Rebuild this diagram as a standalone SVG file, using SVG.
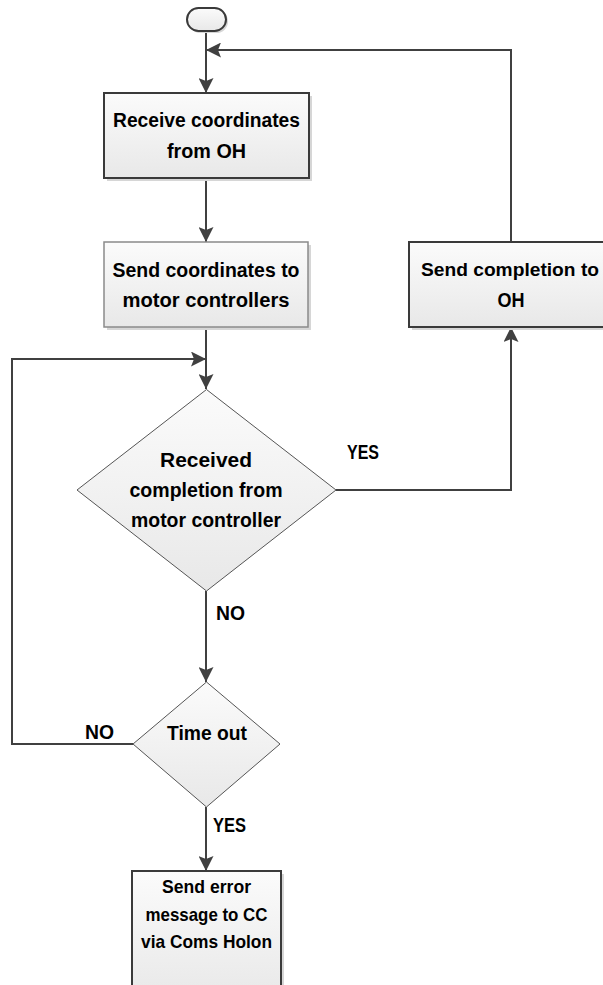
<svg xmlns="http://www.w3.org/2000/svg" width="603" height="985" viewBox="0 0 603 985">
  <defs>
    <linearGradient id="fillGrad" x1="0" y1="0" x2="0" y2="1">
      <stop offset="0" stop-color="#fbfbfb"/>
      <stop offset="1" stop-color="#e8e8e8"/>
    </linearGradient>
    <marker id="arrow" markerUnits="userSpaceOnUse" markerWidth="15" markerHeight="15" viewBox="0 0 15 15" refX="15" refY="7.5" orient="auto">
      <path d="M0,0 L15,7.5 L0,15 L3,7.5 z" fill="#404040"/>
    </marker>
    <style>
      .shape { fill: url(#fillGrad); }
      .dark { stroke: #3a3a3a; stroke-width: 2; }
      .light { stroke: #8a8a8a; stroke-width: 1.5; }
      .thin { stroke: #555555; stroke-width: 1; }
      .shadow { fill: #d6d6d6; }
      .lbl { font-family: "Liberation Sans", Arial, sans-serif; font-weight: bold; font-size: 20px; fill: #000; text-anchor: middle; }
      .small { font-size: 19px; }
      .edge { font-family: "Liberation Sans", Arial, sans-serif; font-weight: bold; font-size: 20px; fill: #000; }
      .conn { fill: none; stroke: #404040; stroke-width: 2; }
    </style>
  </defs>
  <rect width="603" height="985" fill="#ffffff"/>

  <!-- connectors -->
  <g id="connectors">
    <path class="conn" d="M206,31 L206,93" marker-end="url(#arrow)"/>
    <path class="conn" d="M206,178 L206,242" marker-end="url(#arrow)"/>
    <path class="conn" d="M206,327 L206,389" marker-end="url(#arrow)"/>
    <path class="conn" d="M133,744 L12,744 L12,359 L206,359" marker-end="url(#arrow)"/>
    <path class="conn" d="M336,490 L511,490 L511,327" marker-end="url(#arrow)"/>
    <path class="conn" d="M511,242 L511,50 L206,50" marker-end="url(#arrow)"/>
    <path class="conn" d="M206,591 L206,682" marker-end="url(#arrow)"/>
    <path class="conn" d="M206,807 L206,871" marker-end="url(#arrow)"/>
    <text class="edge" x="347" y="459" textLength="32" lengthAdjust="spacingAndGlyphs">YES</text>
    <text class="edge" x="216" y="620" textLength="29" lengthAdjust="spacingAndGlyphs">NO</text>
    <text class="edge" x="85" y="739" textLength="29" lengthAdjust="spacingAndGlyphs">NO</text>
    <text class="edge" x="213" y="832" textLength="33" lengthAdjust="spacingAndGlyphs">YES</text>
  </g>

  <!-- start terminator -->
  <g id="start">
    <rect class="shadow" x="189" y="10" width="39" height="23" rx="11.5"/>
    <rect class="shape dark" x="187" y="8" width="39" height="23" rx="11.5"/>
  </g>

  <!-- receive coordinates -->
  <g id="receive">
    <rect class="shadow" x="107" y="96" width="205" height="85"/>
    <rect class="shape dark" x="104" y="93" width="205" height="85"/>
    <text class="lbl" x="206.5" y="127" textLength="187" lengthAdjust="spacingAndGlyphs">Receive coordinates</text>
    <text class="lbl" x="206.5" y="158" textLength="79" lengthAdjust="spacingAndGlyphs">from OH</text>
  </g>

  <!-- send coordinates -->
  <g id="send-coords">
    <rect class="shadow" x="107" y="245" width="204" height="85"/>
    <rect class="shape light" x="104" y="242" width="204" height="85"/>
    <text class="lbl" x="206" y="277" textLength="187" lengthAdjust="spacingAndGlyphs">Send coordinates to</text>
    <text class="lbl" x="206" y="307" textLength="167" lengthAdjust="spacingAndGlyphs">motor controllers</text>
  </g>

  <!-- send completion (box runs past the right edge) -->
  <g id="send-completion">
    <rect class="shadow" x="412" y="245" width="204" height="85"/>
    <rect class="shape dark" x="409" y="242" width="204" height="85"/>
    <text class="lbl small" x="510" y="276" textLength="178" lengthAdjust="spacingAndGlyphs">Send completion to</text>
    <text class="lbl" x="511" y="307" textLength="27" lengthAdjust="spacingAndGlyphs">OH</text>
  </g>

  <!-- completion decision -->
  <g id="check-completion">
    <polygon class="shape thin" points="206.5,389.5 336,490 206.5,591 77,490"/>
    <text class="lbl" x="206" y="467" textLength="92" lengthAdjust="spacingAndGlyphs">Received</text>
    <text class="lbl" x="206" y="497" textLength="153" lengthAdjust="spacingAndGlyphs">completion from</text>
    <text class="lbl" x="206" y="527" textLength="150" lengthAdjust="spacingAndGlyphs">motor controller</text>
  </g>

  <!-- timeout decision -->
  <g id="timeout">
    <polygon class="shape thin" points="206.5,682 280,744 206.5,807 133,744"/>
    <text class="lbl" x="207" y="740" textLength="80" lengthAdjust="spacingAndGlyphs">Time out</text>
  </g>

  <!-- error report -->
  <g id="send-error">
    <rect class="shadow" x="135" y="874" width="149" height="130"/>
    <rect class="shape dark" x="132" y="871" width="149" height="130"/>
    <text class="lbl small" x="206.5" y="893" textLength="89" lengthAdjust="spacingAndGlyphs">Send error</text>
    <text class="lbl small" x="206.5" y="921" textLength="122" lengthAdjust="spacingAndGlyphs">message to CC</text>
    <text class="lbl small" x="206.5" y="948" textLength="131" lengthAdjust="spacingAndGlyphs">via Coms Holon</text>
  </g>
</svg>
